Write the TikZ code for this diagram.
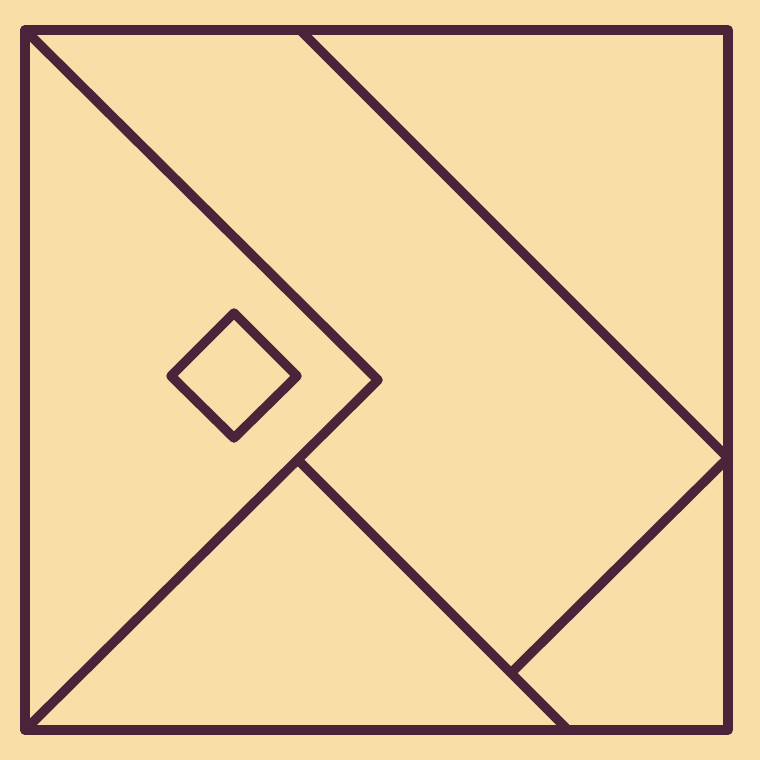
\documentclass[tikz,border=0pt]{standalone}
\definecolor{bg}{HTML}{F8DFA8}
\definecolor{ln}{HTML}{4B243A}
\begin{document}
\begin{tikzpicture}[x=1pt,y=-1pt,piece/.style={draw=ln,line width=9.5pt,line join=round,line cap=round}]
\fill[bg] (0,0) rectangle (760,760);
\useasboundingbox (0,0) rectangle (760,760);
\coordinate (TL) at (25,30);
\coordinate (TR) at (728,30);
\coordinate (BR) at (728,730);
\coordinate (BL) at (25,730);
\coordinate (T) at (300,30);
\coordinate (R) at (728,458);
\coordinate (C) at (378,380);
\coordinate (J) at (298,460);
\coordinate (K) at (512,672);
\coordinate (B) at (568,730);
\draw[piece] (TL) -- (TR) -- (BR) -- (BL) -- cycle;
\draw[piece] (TL) -- (C) -- (BL);
\draw[piece] (J) -- (B);
\draw[piece] (T) -- (R) -- (K);
\draw[piece] (234,313) -- (297,376) -- (234,438) -- (171,376) -- cycle;
\end{tikzpicture}
\end{document}
